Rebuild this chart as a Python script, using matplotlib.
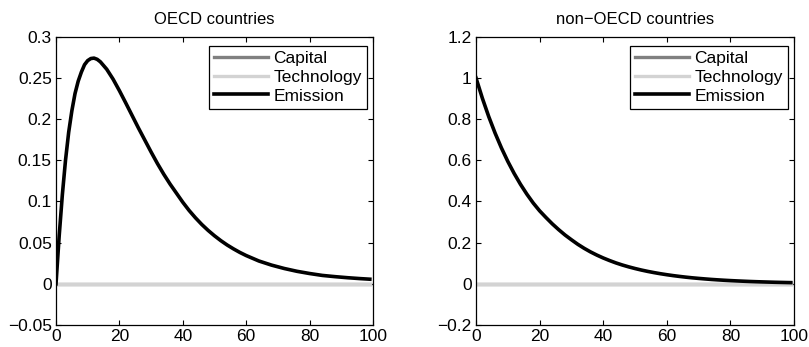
import matplotlib
matplotlib.use("Agg")
import matplotlib.pyplot as plt
from matplotlib.ticker import FuncFormatter

plt.rcParams['font.family'] = ['Liberation Sans', 'DejaVu Sans']
plt.rcParams['axes.unicode_minus'] = True

# Impulse responses, horizon in periods
periods_oecd = [0, 1, 2, 3, 4, 5, 6, 7, 8, 9, 10, 11, 12, 13, 14, 16, 18, 20,
                22, 24, 26, 28, 30, 32, 34, 36, 38, 40, 42, 44, 46, 48, 50,
                52, 54, 56, 58, 60, 64, 68, 72, 76, 80, 84, 88, 92, 96, 99]
emission_oecd = [0.0, 0.058, 0.108, 0.150, 0.184, 0.210, 0.231, 0.246, 0.257,
                 0.266, 0.271, 0.2735, 0.274, 0.2725, 0.2695, 0.2605, 0.2485,
                 0.2345, 0.2196, 0.2044, 0.1892, 0.1746, 0.160, 0.146, 0.133,
                 0.121, 0.110, 0.099, 0.0890, 0.0801, 0.0720, 0.0648, 0.0583,
                 0.0524, 0.0471, 0.0424, 0.0381, 0.0343, 0.0277, 0.0227,
                 0.0186, 0.0152, 0.0125, 0.0102, 0.0087, 0.0074, 0.0063,
                 0.0056]
capital_oecd = [0.0] * len(periods_oecd)
technology_oecd = [0.0] * len(periods_oecd)

periods_non = [0, 2, 4, 6, 8, 10, 12, 14, 16, 18, 20, 22, 24, 26, 28, 30, 32,
               34, 36, 38, 40, 42, 44, 46, 48, 50, 52, 54, 56, 58, 60, 62, 64,
               66, 68, 70, 72, 74, 76, 78, 80, 82, 84, 86, 88, 90, 92, 94, 96,
               98, 99]
emission_non = [1.0, 0.9012, 0.8122, 0.7320, 0.6597, 0.5945, 0.5358, 0.4829,
                0.4352, 0.3922, 0.3545, 0.322, 0.291, 0.263, 0.237, 0.214,
                0.1920, 0.1725, 0.1550, 0.1395, 0.1255, 0.1130, 0.1015,
                0.0914, 0.0824, 0.0743, 0.0669, 0.0603, 0.0544, 0.0490,
                0.0442, 0.0398, 0.0359, 0.0323, 0.0291, 0.0263, 0.0237,
                0.0213, 0.0192, 0.0173, 0.0156, 0.0141, 0.0127, 0.0114,
                0.0103, 0.0093, 0.0084, 0.0075, 0.0068, 0.0061, 0.0058]
capital_non = [0.0] * len(periods_non)
technology_non = [0.0] * len(periods_non)

titles = ['OECD countries', 'non\u2212OECD countries']
x_ticks = [0, 20, 40, 60, 80, 100]
y_ticks_oecd = [-0.05, 0, 0.05, 0.1, 0.15, 0.2, 0.25, 0.3]
y_ticks_non = [-0.2, 0, 0.2, 0.4, 0.6, 0.8, 1.0, 1.2]
series_names = ['Capital', 'Technology', 'Emission']

fig = plt.figure(figsize=(8.09, 3.47), dpi=100)
ax1 = fig.add_axes([56 / 809, 1 - 325 / 347, 317 / 809, 288.3 / 347])
ax2 = fig.add_axes([476 / 809, 1 - 325 / 347, 318 / 809, 288.3 / 347])

fmt = FuncFormatter(lambda v, p: ('%g' % round(v, 4)).replace('-', '\u2212'))

panels = [
    (ax1, periods_oecd, capital_oecd, technology_oecd, emission_oecd,
     y_ticks_oecd, titles[0]),
    (ax2, periods_non, capital_non, technology_non, emission_non,
     y_ticks_non, titles[1]),
]

for ax, t, cap, tech, emi, yt, title in panels:
    ax.plot(t, cap, color='#808080', lw=2.4, label=series_names[0])
    ax.plot(t, tech, color='#d3d3d3', lw=2.4, label=series_names[1])
    ax.plot(t, emi, color='black', lw=2.6, label=series_names[2])
    ax.set_xlim(0, 100)
    ax.set_ylim(yt[0], yt[-1])
    ax.set_xticks(x_ticks)
    ax.set_yticks(yt)
    ax.yaxis.set_major_formatter(fmt)
    ax.tick_params(direction='in', length=3.5, width=0.8, top=True,
                   right=True, labelsize=12.5, pad=3)
    for s in ax.spines.values():
        s.set_linewidth(0.9)
    ax.set_title(title, fontsize=12, pad=9)
    leg = ax.legend(loc='upper right', bbox_to_anchor=(0.981, 0.968),
                    borderaxespad=0, fancybox=False, framealpha=1,
                    edgecolor='black', fontsize=12.5, handlelength=3.1,
                    handletextpad=0.3, labelspacing=0.2, borderpad=0.3)
    leg.get_frame().set_linewidth(0.9)

fig.savefig('out.png', dpi=100)
